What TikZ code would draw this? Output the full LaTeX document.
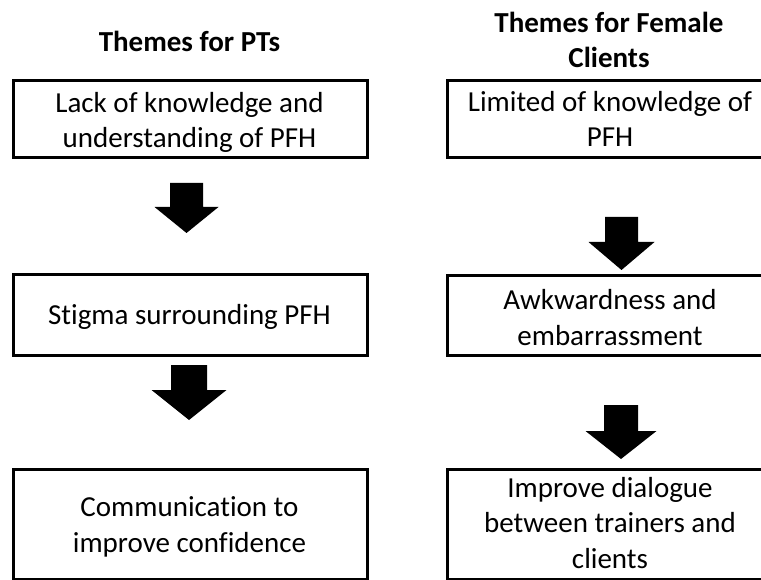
\documentclass[tikz,border=0pt]{standalone}
\usepackage{fontspec}
\setmainfont[Ligatures=NoCommon]{Carlito}
\newcommand{\blockdown}[6]{% centre x, top, head start, tip, half shaft, half head
  \fill[black] (#1-#5,#2) -- (#1+#5,#2) -- (#1+#5,#3) -- (#1+#6,#3)
    -- (#1,#4) -- (#1-#6,#3) -- (#1-#5,#3) -- cycle;}
\begin{document}
\begin{tikzpicture}[x=1pt,y=-1pt,
  box/.style={draw=black,line width=3pt,inner sep=0pt,outer sep=0pt},
  boxtext/.style={font=\fontsize{29}{35.5}\selectfont,align=center,inner sep=0pt,anchor=base},
  title/.style={font=\fontsize{29}{35.5}\selectfont\bfseries,align=center,inner sep=0pt,anchor=base}]
\useasboundingbox (0,0) rectangle (761,580);

% column headings
\node[title] (tl) at (189.5,52) {Themes for PTs};
\node[title] (tr) at (609,68) {Themes for Female\\Clients};

% PT themes: frames
\node[box,minimum width=354,minimum height=77] (l1) at (190.5,119) {};
\node[box,minimum width=354,minimum height=81] (l2) at (190.5,315) {};
\node[box,minimum width=354,minimum height=110] (l3) at (190.5,524.5) {};
% PT themes: texts (placed on the baseline of their last line)
\node[boxtext] (l1t) at (189.5,148) {Lack of knowledge and\\understanding of PFH};
\node[boxtext] (l2t) at (189.5,325) {Stigma surrounding PFH};
\node[boxtext] (l3t) at (189.5,552) {Communication to\\improve confidence};

% client themes: frames
\node[box,minimum width=326,minimum height=77] (r1) at (610.5,119) {};
\node[box,minimum width=326,minimum height=80] (r2) at (610.5,315.5) {};
\node[box,minimum width=326,minimum height=110] (r3) at (610.5,524.5) {};
% client themes: texts
\node[boxtext] (r1t) at (610,147) {Limited of knowledge of\\PFH};
\node[boxtext] (r2t) at (610,345) {Awkwardness and\\embarrassment};
\node[boxtext] (r3t) at (610,568) {Improve dialogue\\between trainers and\\clients};

% block arrows between the themes
\blockdown{186.5}{183}{207}{233}{16.5}{32}
\blockdown{189}{365}{390}{420}{18}{37.5}
\blockdown{621.5}{217}{242}{270}{16.5}{33}
\blockdown{621}{405}{431}{459}{17}{35.5}
\end{tikzpicture}
\end{document}
